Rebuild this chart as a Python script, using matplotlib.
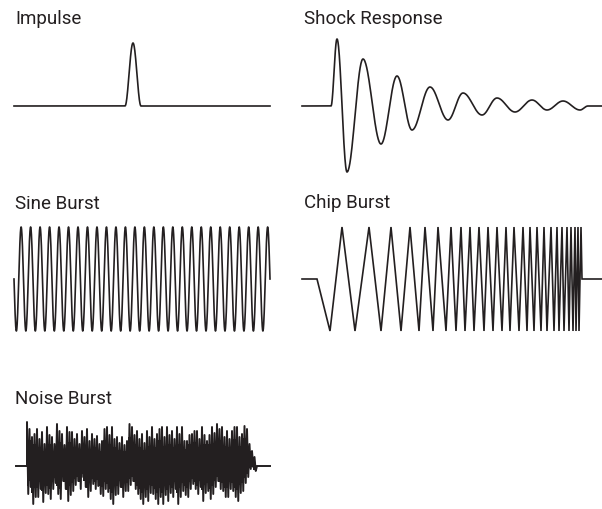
import numpy as np
import matplotlib
matplotlib.use("Agg")
import matplotlib.pyplot as plt

plt.rcParams['font.family'] = ['Roboto', 'DejaVu Sans']

INK = '#231f20'

# titles of the five panels
titles = ["Impulse", "Shock Response", "Sine Burst", "Chip Burst", "Noise Burst"]

# impulse: (x, amplitude) key points
impulse_x = [14, 125, 133, 141, 270]
impulse_amp = [0, 0, 63, 0, 0]

# shock response: start, extrema, end
shock_x = [302, 331, 337, 347, 363, 381, 397, 412, 430, 448, 463, 482,
           497, 515, 532, 547, 563, 580, 588, 602]
shock_amp = [0, 0, 67, -66, 47, -38, 30, -24, 19, -14, 13, -9,
             8, -6, 6, -4, 5, -4, 0, 0]

# sine burst
sine_start, sine_end = 14, 270
sine_cycles = 27
sine_amp = 52

# chirp burst: x of troughs and peaks
chirp_troughs = [330, 355, 381, 401, 419, 433, 446, 456, 465, 474, 484, 493, 502,
                 510, 519, 527, 534, 541, 547, 554, 559, 564, 569, 573, 576, 579]
chirp_peaks = [342, 369, 391, 410, 425, 438, 451, 461, 470, 479, 488, 497, 506,
               514, 523, 530, 537, 544, 551, 557, 562, 567, 571, 575, 578, 581]
chirp_amp = 52
chirp_lead = [302, 317]
chirp_tail = [582, 602]

# noise burst envelope (pixel rows of the top and bottom of each stroke)
noise_top = [423, 430, 438, 435, 430, 440, 433, 445, 428, 436, 438, 445, 425, 432,
             435, 446, 428, 433, 433, 440, 435, 445, 432, 438, 430, 442, 435, 440,
             437, 445, 442, 430, 428, 436, 428, 440, 438, 444, 438, 446, 442, 425,
             428, 436, 432, 440, 435, 444, 432, 438, 428, 440, 435, 430, 428, 438,
             428, 436, 432, 440, 428, 435, 428, 442, 442, 436, 435, 432, 432, 440,
             428, 436, 442, 436, 428, 434, 425, 430, 428, 438, 432, 440, 432, 428,
             428, 438, 435, 427, 430, 445, 452, 458]
noise_bot = [495, 488, 505, 498, 498, 490, 503, 494, 495, 500, 490, 484, 495, 500,
             482, 490, 502, 496, 492, 486, 482, 490, 478, 488, 498, 492, 485, 490,
             487, 495, 497, 490, 493, 500, 505, 496, 495, 488, 498, 492, 492, 486,
             482, 490, 495, 500, 505, 498, 502, 494, 495, 500, 505, 498, 505, 496,
             502, 494, 498, 490, 505, 498, 492, 496, 498, 490, 485, 490, 495, 488,
             502, 494, 492, 500, 495, 488, 482, 490, 492, 498, 498, 490, 492, 498,
             502, 494, 492, 484, 478, 470, 468, 472]
noise_center = 467
noise_start, noise_step = 27, 2.5
noise_lead = [16, 27]
noise_tail = [257, 270]


def cos_path(xs, amps, n=40):
    # smooth half-cosine segments between key points
    px, py = [], []
    for i in range(len(xs) - 1):
        s = np.linspace(0, 1, n)
        px.extend(xs[i] + (xs[i + 1] - xs[i]) * s)
        py.extend(amps[i] + (amps[i + 1] - amps[i]) * (1 - np.cos(np.pi * s)) / 2)
    return px, py


fig = plt.figure(figsize=(6.02, 5.10), dpi=100)
W, H = 602, 510


def panel(col, cy, half=85):
    x0 = 0 if col == 0 else 301
    ax = fig.add_axes([x0 / W, (H - cy - half) / H, 301 / W, 2 * half / H])
    ax.set_xlim(x0, x0 + 301)
    ax.set_ylim(-half, half)
    ax.axis('off')
    return ax


lw = 1.2

# Impulse
ax = panel(0, 107)
x, y = cos_path(impulse_x, impulse_amp)
ax.plot(x, y, color=INK, lw=lw, clip_on=False)

# Shock response
ax = panel(1, 107)
x, y = cos_path(shock_x, shock_amp)
ax.plot(x, y, color=INK, lw=lw, clip_on=False)

# Sine burst
ax = panel(0, 280)
t = np.linspace(0, 1, 3000)
ax.plot(sine_start + (sine_end - sine_start) * t,
        -sine_amp * np.sin(2 * np.pi * sine_cycles * t), color=INK, lw=lw, clip_on=False)

# Chirp burst
ax = panel(1, 280)
cx = list(chirp_lead)
cy = [0, 0]
for tr, pk in zip(chirp_troughs, chirp_peaks):
    cx += [tr, pk]
    cy += [-chirp_amp, chirp_amp]
cx += chirp_tail
cy += [0, 0]
ax.plot(cx, cy, color=INK, lw=lw, clip_on=False, solid_joinstyle='miter')

# Noise burst
ax = panel(0, noise_center, half=60)
top = noise_center - np.array(noise_top)
bot = noise_center - np.array(noise_bot)
xs = noise_start + noise_step * np.arange(len(noise_top))
# solid core, then the ragged strokes on top
ax.fill_between(xs, 0.7 * top, 0.7 * bot, step='mid', color=INK, lw=0)
nx = list(noise_lead)
ny = [0, 0]
for xi, tp, bt in zip(xs, top, bot):
    nx += [xi, xi + noise_step / 2]
    ny += [tp, bt]
nx += noise_tail
ny += [0, 0]
ax.plot(nx, ny, color=INK, lw=1.4, clip_on=False)

# titles
title_pos = [(15, 24), (304, 24), (15, 209), (304, 208), (15, 404)]
for txt, (tx, ty) in zip(titles, title_pos):
    fig.text(tx / W, 1 - ty / H, txt, fontsize=13.5, color=INK, va='baseline', ha='left')

fig.savefig('out.png', dpi=100)
